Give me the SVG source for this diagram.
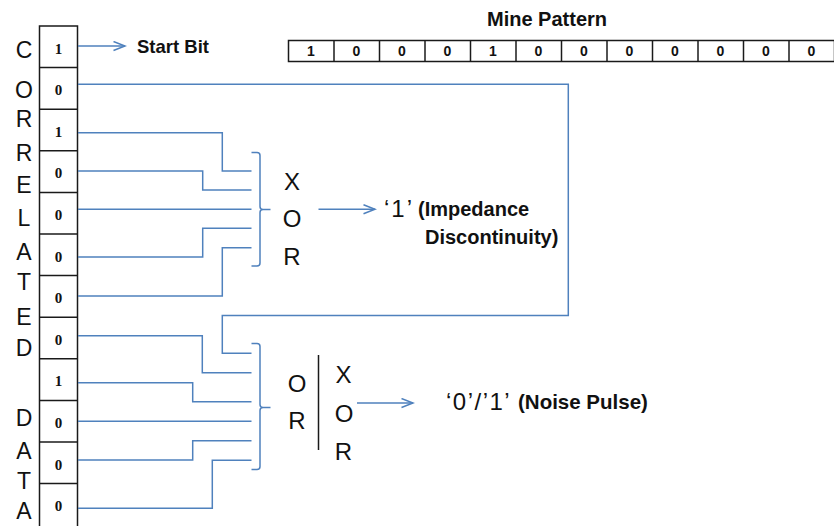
<svg xmlns="http://www.w3.org/2000/svg" width="834" height="526" viewBox="0 0 834 526">
  <style>
    .wire { fill: none; stroke: #4F81BD; stroke-width: 1.5; }
    .cell { fill: #FFFFFF; stroke: #1A1A1A; stroke-width: 1.5; }
    .sep { stroke: #1A1A1A; stroke-width: 1.5; }
    .bit { font-family: "Liberation Serif", serif; font-weight: bold; font-size: 15px; fill: #111; text-anchor: middle; }
    .pbit { font-family: "Liberation Sans", Arial, sans-serif; font-weight: bold; font-size: 14px; fill: #111; text-anchor: middle; }
    .side { font-family: "Liberation Sans", Arial, sans-serif; font-size: 23px; fill: #111; text-anchor: middle; }
    .gate { font-family: "Liberation Sans", Arial, sans-serif; font-size: 24px; fill: #111; text-anchor: middle; }
    .big { font-family: "Liberation Sans", Arial, sans-serif; font-size: 24px; fill: #111; }
    .lbl { font-family: "Liberation Sans", Arial, sans-serif; font-weight: bold; font-size: 20px; fill: #111; }
  </style>
  <defs>
    <marker id="head" markerUnits="userSpaceOnUse" markerWidth="14" markerHeight="12" refX="12" refY="5" orient="auto">
      <path d="M0.5,0.5 L12,5 L0.5,9.5" fill="none" stroke="#4F81BD" stroke-width="1.5"/>
    </marker>
  </defs>

  <rect width="834" height="526" fill="#FFFFFF"/>

  <!-- vertical caption -->
  <g id="caption">
    <text class="side" x="24" y="58">C</text>
    <text class="side" x="24" y="98">O</text>
    <text class="side" x="24" y="127">R</text>
    <text class="side" x="24" y="161">R</text>
    <text class="side" x="24" y="193">E</text>
    <text class="side" x="24" y="226">L</text>
    <text class="side" x="24" y="260">A</text>
    <text class="side" x="24" y="290">T</text>
    <text class="side" x="24" y="325">E</text>
    <text class="side" x="24" y="355.5">D</text>
    <text class="side" x="24" y="425.5">D</text>
    <text class="side" x="24" y="458.5">A</text>
    <text class="side" x="24" y="488.5">T</text>
    <text class="side" x="24" y="518.5">A</text>
  </g>

  <!-- correlated data column -->
  <g id="data-column">
    <rect class="cell" x="39.5" y="26" width="38" height="502"/>
    <line class="sep" x1="39.5" y1="67.6" x2="77.5" y2="67.6"/>
    <line class="sep" x1="39.5" y1="109.2" x2="77.5" y2="109.2"/>
    <line class="sep" x1="39.5" y1="150.8" x2="77.5" y2="150.8"/>
    <line class="sep" x1="39.5" y1="192.4" x2="77.5" y2="192.4"/>
    <line class="sep" x1="39.5" y1="234" x2="77.5" y2="234"/>
    <line class="sep" x1="39.5" y1="275.6" x2="77.5" y2="275.6"/>
    <line class="sep" x1="39.5" y1="317.2" x2="77.5" y2="317.2"/>
    <line class="sep" x1="39.5" y1="358.8" x2="77.5" y2="358.8"/>
    <line class="sep" x1="39.5" y1="400.4" x2="77.5" y2="400.4"/>
    <line class="sep" x1="39.5" y1="442" x2="77.5" y2="442"/>
    <line class="sep" x1="39.5" y1="483.6" x2="77.5" y2="483.6"/>
    <text class="bit" x="58.5" y="53.5">1</text>
    <text class="bit" x="58.5" y="95.1">0</text>
    <text class="bit" x="58.5" y="136.7">1</text>
    <text class="bit" x="58.5" y="178.3">0</text>
    <text class="bit" x="58.5" y="219.9">0</text>
    <text class="bit" x="58.5" y="261.5">0</text>
    <text class="bit" x="58.5" y="303.1">0</text>
    <text class="bit" x="58.5" y="344.7">0</text>
    <text class="bit" x="58.5" y="386.3">1</text>
    <text class="bit" x="58.5" y="427.9">0</text>
    <text class="bit" x="58.5" y="469.5">0</text>
    <text class="bit" x="58.5" y="511.1">0</text>
  </g>

  <!-- start bit label -->
  <g id="start-bit">
    <text class="lbl" x="137" y="53" style="font-size:18.5px">Start Bit</text>
  </g>

  <!-- mine pattern reference -->
  <g id="mine-pattern">
    <text class="lbl" x="547" y="26" text-anchor="middle">Mine Pattern</text>
    <rect class="cell" x="288.5" y="40.5" width="546" height="21"/>
    <line class="sep" x1="334" y1="40.5" x2="334" y2="61.5"/>
    <line class="sep" x1="379.5" y1="40.5" x2="379.5" y2="61.5"/>
    <line class="sep" x1="425" y1="40.5" x2="425" y2="61.5"/>
    <line class="sep" x1="470.5" y1="40.5" x2="470.5" y2="61.5"/>
    <line class="sep" x1="516" y1="40.5" x2="516" y2="61.5"/>
    <line class="sep" x1="561.5" y1="40.5" x2="561.5" y2="61.5"/>
    <line class="sep" x1="607" y1="40.5" x2="607" y2="61.5"/>
    <line class="sep" x1="652.5" y1="40.5" x2="652.5" y2="61.5"/>
    <line class="sep" x1="698" y1="40.5" x2="698" y2="61.5"/>
    <line class="sep" x1="743.5" y1="40.5" x2="743.5" y2="61.5"/>
    <line class="sep" x1="789" y1="40.5" x2="789" y2="61.5"/>
    <text class="pbit" x="311" y="56">1</text>
    <text class="pbit" x="356.5" y="56">0</text>
    <text class="pbit" x="402" y="56">0</text>
    <text class="pbit" x="447.5" y="56">0</text>
    <text class="pbit" x="493" y="56">1</text>
    <text class="pbit" x="538.5" y="56">0</text>
    <text class="pbit" x="584" y="56">0</text>
    <text class="pbit" x="629.5" y="56">0</text>
    <text class="pbit" x="675" y="56">0</text>
    <text class="pbit" x="720.5" y="56">0</text>
    <text class="pbit" x="766" y="56">0</text>
    <text class="pbit" x="811.5" y="56">0</text>
  </g>

  <!-- XOR gate (rows 3-7) -->
  <g id="xor-gate">
    <path class="wire" d="M251.5,152.5 H257 Q260,152.5 260,155.5 V206.5 Q260,209.5 263,209.5 H270.5 M263,209.5 Q260,209.5 260,212.5 V263 Q260,266 257,266 H251.5"/>
    <text class="gate" x="292" y="190">X</text>
    <text class="gate" x="292" y="227">O</text>
    <text class="gate" x="292" y="265">R</text>
  </g>

  <!-- OR | XOR gate (rows 2, 8-12) -->
  <g id="or-xor-gate">
    <path class="wire" d="M251.5,343.5 H257 Q260,343.5 260,346.5 V404.5 Q260,407.5 263,407.5 H270.5 M263,407.5 Q260,407.5 260,410.5 V466.5 Q260,469.5 257,469.5 H251.5"/>
    <text class="gate" x="297" y="391.5">O</text>
    <text class="gate" x="297" y="429">R</text>
    <line x1="318.5" y1="355" x2="318.5" y2="450" stroke="#1A1A1A" stroke-width="1.5"/>
    <text class="gate" x="343.5" y="383">X</text>
    <text class="gate" x="344" y="421.5">O</text>
    <text class="gate" x="343.5" y="460">R</text>
  </g>

  <!-- outputs -->
  <g id="impedance-output">
    <text class="big" x="384" y="217" letter-spacing="2">‘1’</text>
    <text class="lbl" x="418" y="216">(Impedance</text>
    <text class="lbl" x="425" y="244">Discontinuity)</text>
  </g>
  <g id="noise-output">
    <text class="big" x="446" y="410" letter-spacing="1.5">‘0’/’1’</text>
    <text class="lbl" x="518" y="409" style="font-size:20.5px">(Noise Pulse)</text>
  </g>

  <!-- connectors -->
  <g id="connectors">
    <line class="wire" x1="78" y1="46" x2="125" y2="46" marker-end="url(#head)"/>
    <path class="wire" d="M78,132.7 H222.3 V171 H251.5"/>
    <path class="wire" d="M78,171 H202.7 V190 H251.5"/>
    <path class="wire" d="M78,209.3 H251.5"/>
    <path class="wire" d="M78,257 H202.7 V228.3 H251.5"/>
    <path class="wire" d="M78,296 H222.3 V247.7 H251.5"/>
    <path class="wire" d="M78,84.3 H568.3 V315.5 H222.3 V353.3 H251.5"/>
    <path class="wire" d="M78,335.7 H202.3 V372.7 H251.5"/>
    <path class="wire" d="M78,382.7 H192.7 V401.7 H251.5"/>
    <path class="wire" d="M78,421.2 H251.5"/>
    <path class="wire" d="M78,460 H192.7 V440.7 H251.5"/>
    <path class="wire" d="M78,508.3 H212.3 V460.3 H251.5"/>
    <line class="wire" x1="318.5" y1="209.3" x2="375" y2="209.3" marker-end="url(#head)"/>
    <line class="wire" x1="357" y1="403" x2="413" y2="403" marker-end="url(#head)"/>
  </g>
</svg>
